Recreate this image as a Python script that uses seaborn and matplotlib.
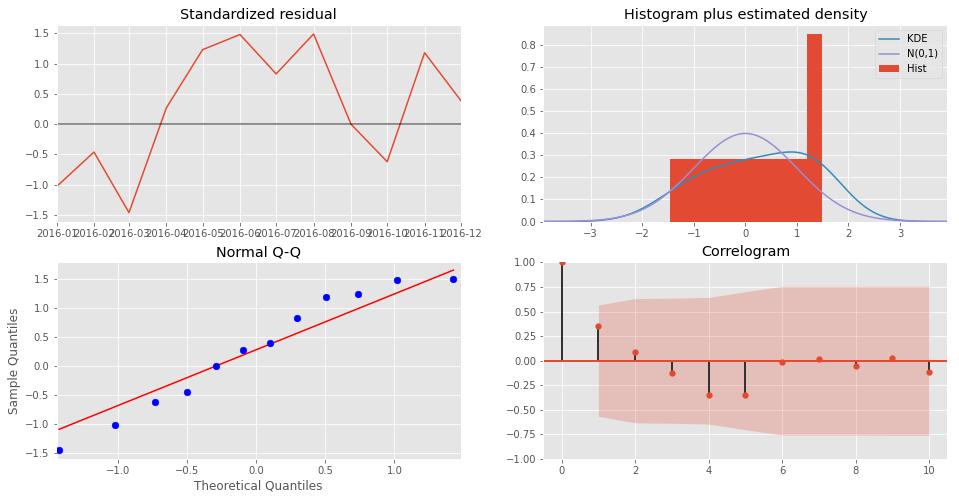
import numpy as np
import pandas as pd
import matplotlib
matplotlib.use("Agg")
import matplotlib.pyplot as plt
import matplotlib.dates as mdates
import seaborn as sns

# standardized residuals, one per month
months = pd.date_range("2016-01-01", periods=12, freq="MS")
resid = [-1.03, -0.46, -1.46, 0.27, 1.23, 1.48, 0.83, 1.49, 0.00, -0.62, 1.18, 0.39]

# histogram bin edges as drawn
hist_edges = [-1.46, 1.195, 1.49]

# theoretical normal quantiles for n=12
theo_q = [-1.426, -1.020, -0.736, -0.502, -0.293, -0.097,
          0.097, 0.293, 0.502, 0.736, 1.020, 1.426]

# autocorrelations and confidence band (lags 1..10)
lags = list(range(11))
acf_vals = [1.0, 0.353, 0.088, -0.125, -0.349, -0.349, -0.014, 0.017, -0.054, 0.027, -0.115]
conf_band = [0.566, 0.632, 0.636, 0.644, 0.702, 0.756, 0.756, 0.756, 0.757, 0.757]

plt.style.use("ggplot")
c_red, c_blue, c_purple = "#E24A33", "#348ABD", "#988ED5"

fig, axes = plt.subplots(2, 2, figsize=(959 / 72, 500 / 72), dpi=72)
fig.subplots_adjust(left=0.059, right=0.988, top=0.95, bottom=0.082,
                    wspace=0.204, hspace=0.208)

# --- standardized residual
ax = axes[0, 0]
df = pd.DataFrame({"date": months, "resid": resid})
sns.lineplot(data=df, x="date", y="resid", color=c_red, lw=1.5, ax=ax)
ax.hlines(0, months[0], months[-1], color="k", alpha=0.4, lw=2)
ax.set_xlim(months[0], months[-1])
ax.xaxis.set_major_locator(mdates.MonthLocator())
ax.xaxis.set_major_formatter(mdates.DateFormatter("%Y-%m"))
ax.set_yticks([-1.5, -1.0, -0.5, 0.0, 0.5, 1.0, 1.5])
ax.set_xlabel("")
ax.set_ylabel("")
ax.set_title("Standardized residual")

# --- histogram plus density
ax = axes[0, 1]
xlim = (-1.96 * 2, 1.96 * 2)
sns.histplot(x=resid, bins=hist_edges, stat="density", color=c_red,
             alpha=1, linewidth=0, label="Hist", ax=ax)
sns.kdeplot(x=resid, cut=6, gridsize=300, color=c_blue, lw=1.5, label="KDE", ax=ax)
xs = np.linspace(xlim[0], xlim[1], 200)
sns.lineplot(x=xs, y=np.exp(-xs ** 2 / 2) / np.sqrt(2 * np.pi),
             color=c_purple, lw=1.5, label="N(0,1)", ax=ax)
ax.set_xlim(xlim)
ax.set_xticks([-3, -2, -1, 0, 1, 2, 3])
ax.set_yticks(np.arange(0, 0.81, 0.1))
ax.set_xlabel("")
ax.set_ylabel("")
h, l = ax.get_legend_handles_labels()
order = [l.index("KDE"), l.index("N(0,1)"), l.index("Hist")]
ax.legend([h[i] for i in order], [l[i] for i in order], loc="upper right")
ax.set_title("Histogram plus estimated density")

# --- normal Q-Q
ax = axes[1, 0]
sample_q = np.sort(resid)
sns.scatterplot(x=theo_q, y=sample_q, color="b", s=45, edgecolor="b",
                linewidth=0.5, ax=ax, zorder=3)
ref = np.array(theo_q) * np.std(sample_q) + np.mean(sample_q)
sns.lineplot(x=theo_q, y=ref, color="r", lw=1.5, ax=ax)
ax.set_xlim(-1.445, 1.48)
ax.set_ylim(-1.61, 1.78)
ax.set_xticks([-1.0, -0.5, 0.0, 0.5, 1.0])
ax.set_yticks([-1.5, -1.0, -0.5, 0.0, 0.5, 1.0, 1.5])
ax.set_xlabel("Theoretical Quantiles")
ax.set_ylabel("Sample Quantiles")
ax.set_title("Normal Q-Q")

# --- correlogram
ax = axes[1, 1]
ax.vlines(lags, 0, acf_vals, colors="#333333", lw=2, zorder=2)
ax.axhline(0, color=c_red, lw=2, zorder=2)
sns.scatterplot(x=lags, y=acf_vals, color=c_red, s=40, edgecolor=c_red,
                linewidth=0, ax=ax, zorder=3, clip_on=True)
band = np.array(conf_band)
ax.fill_between(lags[1:], -band, band, color=c_red, alpha=0.25, lw=0, zorder=1)
ax.set_xlim(-0.5, 10.5)
ax.set_ylim(-1, 1)
ax.set_yticks([-1.0, -0.75, -0.5, -0.25, 0.0, 0.25, 0.5, 0.75, 1.0])
ax.set_yticklabels(["−1.00", "−0.75", "−0.50", "−0.25", "0.00", "0.25", "0.50", "0.75", "1.00"])
ax.set_xticks([0, 2, 4, 6, 8, 10])
ax.set_xlabel("")
ax.set_ylabel("")
ax.set_title("Correlogram")

fig.savefig("out.png", dpi=72)
